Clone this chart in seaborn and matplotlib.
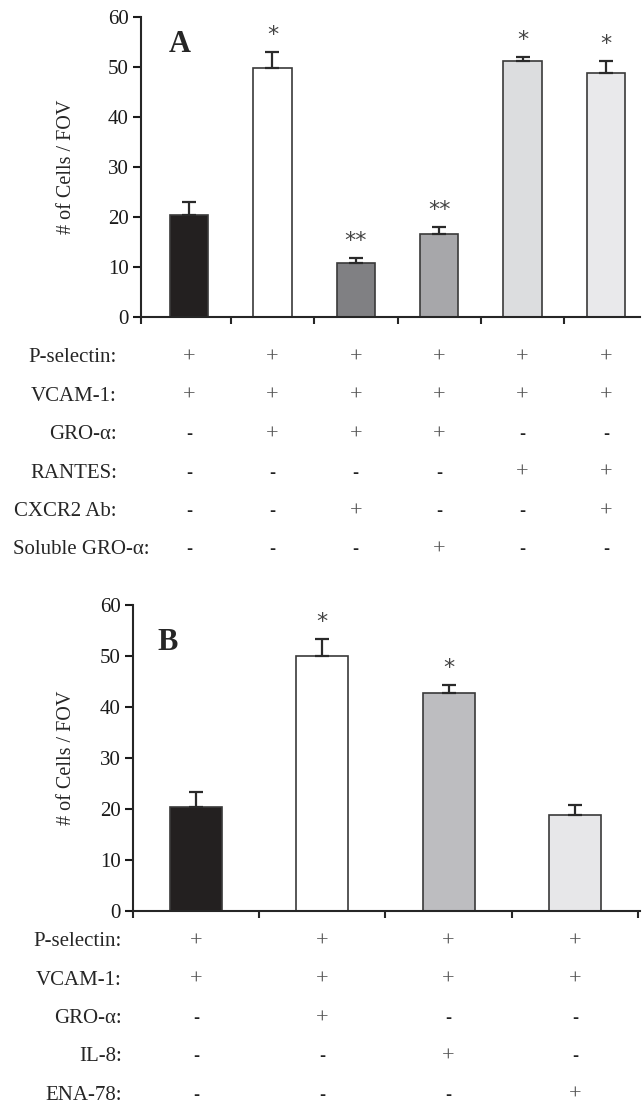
import matplotlib
matplotlib.use("Agg")
import matplotlib.pyplot as plt
import matplotlib.transforms as mtransforms
import seaborn as sns
import pandas as pd

# ---------------- data ----------------
a_groups = ["Ctrl", "GRO-α", "GRO-α+CXCR2 Ab", "GRO-α+sGRO-α", "RANTES", "RANTES+CXCR2 Ab"]
a_means = [20.4, 49.9, 10.8, 16.6, 51.2, 48.8]
a_errs = [2.6, 3.1, 1.0, 1.4, 0.8, 2.4]
a_marks = ["", "*", "**", "**", "*", "*"]
a_colors = ["#231f20", "#ffffff", "#7f8084", "#a6a7aa", "#dcdddf", "#e9e9eb"]
a_rows = ["P-selectin:", "VCAM-1:", "GRO-α:", "RANTES:", "CXCR2 Ab:", "Soluble GRO-α:"]
a_table = [
    ["+", "+", "+", "+", "+", "+"],
    ["+", "+", "+", "+", "+", "+"],
    ["-", "+", "+", "+", "-", "-"],
    ["-", "-", "-", "-", "+", "+"],
    ["-", "-", "+", "-", "-", "+"],
    ["-", "-", "-", "+", "-", "-"],
]

b_groups = ["Ctrl", "GRO-α", "IL-8", "ENA-78"]
b_means = [20.4, 50.0, 42.8, 18.8]
b_errs = [2.9, 3.3, 1.5, 2.0]
b_marks = ["", "*", "*", ""]
b_colors = ["#231f20", "#ffffff", "#bcbdc0", "#e7e7e9"]
b_rows = ["P-selectin:", "VCAM-1:", "GRO-α:", "IL-8:", "ENA-78:"]
b_table = [
    ["+", "+", "+", "+"],
    ["+", "+", "+", "+"],
    ["-", "+", "-", "-"],
    ["-", "-", "+", "-"],
    ["-", "-", "-", "+"],
]

yticks = [0, 10, 20, 30, 40, 50, 60]
ylabel = "# of Cells / FOV"

# ---------------- style ----------------
sns.set_style("ticks")
plt.rcParams["font.family"] = ["Liberation Serif", "DejaVu Serif"]
plt.rcParams["axes.linewidth"] = 1.5

W, H = 643, 1104
fig = plt.figure(figsize=(W / 100, H / 100), dpi=100)


def make_panel(rect, groups, means, errs, marks, colors, rows, table, letter,
               width, xlim, letter_pos, ylab_x, label_right, row_y0, row_dy,
               right_tick):
    ax = fig.add_axes(rect)
    df = pd.DataFrame({"group": groups, "value": means})
    sns.barplot(data=df, x="group", y="value", hue="group", order=groups,
                hue_order=groups, palette=dict(zip(groups, colors)),
                width=width, edgecolor="#3a3a3a", linewidth=1.2,
                errorbar=None, legend=False, ax=ax)
    xs = list(range(len(groups)))
    ax.errorbar(xs, means, yerr=[[0] * len(groups), errs], fmt="none",
                ecolor="#2a2a2a", elinewidth=1.6, capsize=5, capthick=1.6,
                zorder=1)
    for x, m, e, s in zip(xs, means, errs, marks):
        if s:
            ax.annotate(s, (x, m + e), xytext=(0, 5), textcoords="offset points",
                        ha="center", va="bottom", fontsize=16, color="#444444",
                        family=["DejaVu Sans"])
    ax.set_ylim(0, 60)
    ax.set_yticks(yticks)
    ax.set_xlim(*xlim)
    ticks = [xlim[0]] + [i + 0.5 for i in range(len(groups) - 1)]
    if right_tick:
        ticks.append(len(groups) - 0.5)
    ax.set_xticks(ticks)
    ax.set_xticklabels([])
    ax.set_xlabel("")
    ax.set_ylabel(ylabel, fontsize=14.5)
    ax.yaxis.set_label_coords(ylab_x, 0.5)
    ax.tick_params(axis="y", direction="out", length=6, width=1.5,
                   labelsize=15, pad=3, colors="#1a1a1a")
    ax.tick_params(axis="x", direction="out", length=5, width=1.5)
    sns.despine(ax=ax)
    ax.text(letter_pos[0], letter_pos[1], letter, transform=ax.transAxes,
            fontsize=22, fontweight="bold", va="baseline", ha="left")

    trans = mtransforms.blended_transform_factory(ax.transData, fig.transFigure)
    for k, (lab, vals) in enumerate(zip(rows, table)):
        yf = 1 - (row_y0 + k * row_dy) / H
        if len(lab) > 12:
            fig.text(13 / W, yf, lab, ha="left", va="center", fontsize=15)
        else:
            fig.text(label_right / W, yf, lab, ha="right", va="center", fontsize=15)
        for x, v in zip(xs, vals):
            if v == "+":
                ax.text(x, yf, "+", transform=trans, ha="center", va="center",
                        fontsize=16, color="#555555", clip_on=False)
            else:
                ax.text(x, yf, "-", transform=trans, ha="center", va="center",
                        fontsize=13, color="#222222", fontweight="bold",
                        family=["Liberation Sans"], clip_on=False)
    return ax


make_panel([141 / W, 1 - 317 / H, (640 - 141) / W, 300 / H],
           a_groups, a_means, a_errs, a_marks, a_colors, a_rows, a_table, "A",
           width=0.46, xlim=(-0.576, 5.408), letter_pos=(0.056, 0.883),
           ylab_x=-0.13, label_right=117, row_y0=358, row_dy=38.4,
           right_tick=False)

make_panel([133 / W, 1 - 911 / H, (640 - 133) / W, 306 / H],
           b_groups, b_means, b_errs, b_marks, b_colors, b_rows, b_table, "B",
           width=0.41, xlim=(-0.499, 3.515), letter_pos=(0.049, 0.853),
           ylab_x=-0.112, label_right=122, row_y0=942, row_dy=38.3,
           right_tick=True)

fig.savefig("out.png", dpi=100)
